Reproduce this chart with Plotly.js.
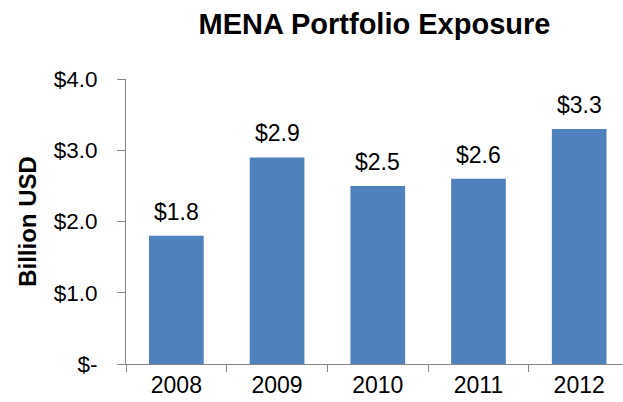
<!DOCTYPE html>
<html>
<head>
<meta charset="utf-8">
<script src="https://cdn.plot.ly/plotly-3.0.1.min.js"></script>
<style>html,body{margin:0;padding:0;background:#fff;}#chart{width:623px;height:402px;}</style>
</head>
<body>
<div id="chart"></div>
<script>
const years = ["2008", "2009", "2010", "2011", "2012"];
const exposure = [1.8, 2.9, 2.5, 2.6, 3.3];
const yTickVals = [0, 1, 2, 3, 4];
const yTickText = ["$-", "$1.0", "$2.0", "$3.0", "$4.0"];

const labels = exposure.map(v => "$" + v.toFixed(1));

const trace = {
  type: "bar",
  x: years,
  y: exposure,
  marker: {color: "#4F81BD"},
  hoverinfo: "skip"
};

// category axis: annotation x is the category index
const annotations = years.map((yr, i) => ({
  x: i, y: exposure[i], xref: "x", yref: "y",
  text: labels[i], showarrow: false,
  xanchor: "center", yanchor: "middle", yshift: 24,
  font: {family: "Liberation Sans, Arial, sans-serif", size: 23, color: "#000"}
}));

const layout = {
  width: 623, height: 402,
  margin: {l: 126, r: 0, t: 79, b: 38, pad: 0},
  paper_bgcolor: "#fff", plot_bgcolor: "#fff",
  font: {family: "Liberation Sans, Arial, sans-serif", color: "#000"},
  bargap: 0.457,
  showlegend: false,
  annotations: annotations,
  title: {
    text: "<b>MENA Portfolio Exposure</b>",
    font: {size: 29, color: "#000"},
    xref: "paper", x: 0.5, xanchor: "center",
    yref: "container", y: 0.94, yanchor: "middle"
  },
  xaxis: {
    type: "category",
    range: [-0.5, 4.435],
    showgrid: false, zeroline: false,
    showline: true, linecolor: "#868686", linewidth: 1,
    ticks: "outside", ticklen: 7, tickcolor: "#868686", tickwidth: 1,
    tickson: "boundaries",
    tickfont: {size: 23, color: "#000"}
  },
  yaxis: {
    range: [0, 4],
    tickvals: yTickVals, ticktext: yTickText,
    showgrid: false, zeroline: false,
    showline: true, linecolor: "#868686", linewidth: 1,
    ticks: "outside", ticklen: 8, tickcolor: "#868686", tickwidth: 1,
    ticklabelstandoff: 15,
    tickfont: {size: 22.5, color: "#000"},
    title: {text: "<b>Billion USD</b>", font: {size: 24, color: "#000"}, standoff: 10}
  }
};

Plotly.newPlot("chart", [trace], layout, {displayModeBar: false, staticPlot: true});
</script>
</body>
</html>
